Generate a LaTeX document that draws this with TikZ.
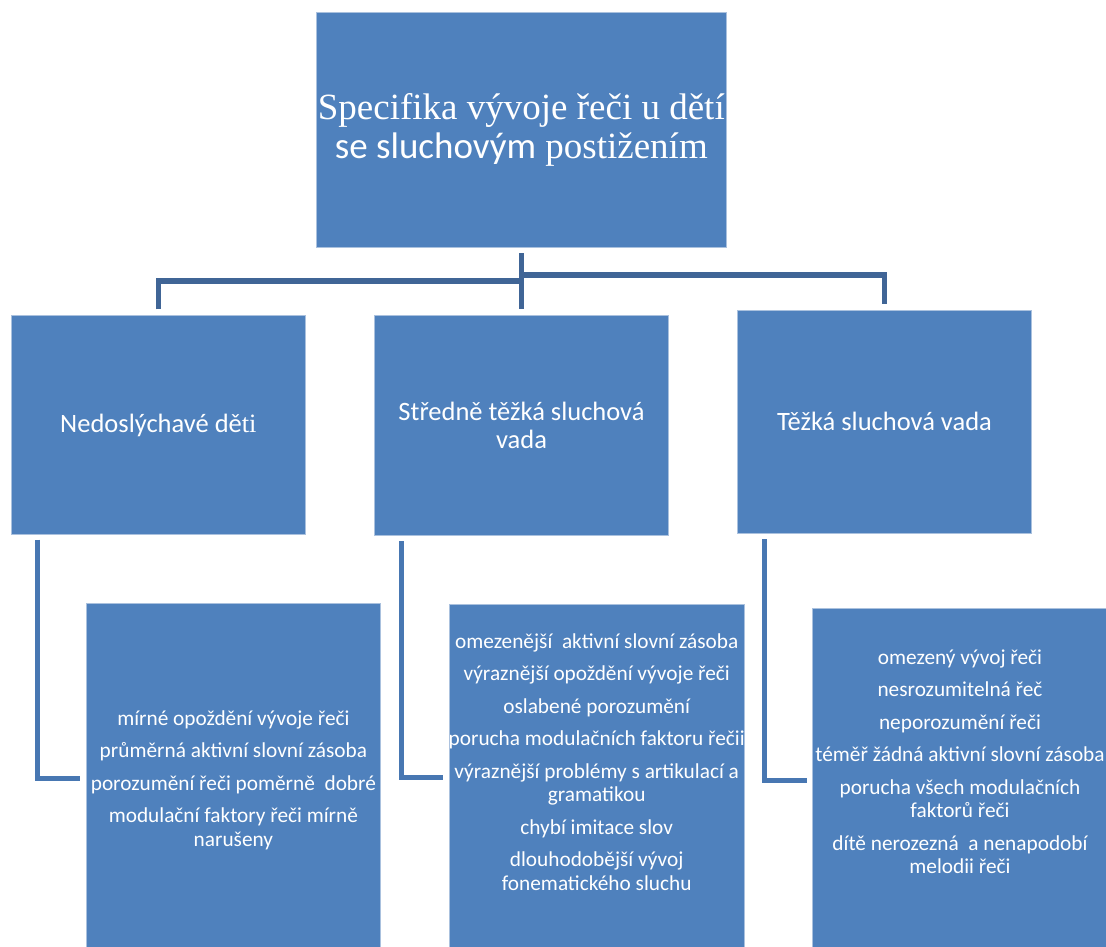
\documentclass[tikz,border=0pt]{standalone}
\usepackage{fontspec}
\setmainfont{Carlito}
\newfontfamily\serifpart{Liberation Serif}
\newfontfamily\calibripart{Carlito}
\definecolor{boxblue}{RGB}{79,129,189}
\definecolor{boxedge}{RGB}{170,193,222}
\definecolor{trunkblue}{RGB}{64,101,150}
\definecolor{twigblue}{RGB}{72,119,178}

\begin{document}
\begin{tikzpicture}[x=1pt,y=-1pt,
  box/.style={rectangle,fill=boxblue,draw=boxedge,line width=0.7pt,
    text=white,inner sep=0pt,align=flush center},
  rootbox/.style={box,minimum width=410.7pt,minimum height=234.6pt,
    font=\serifpart\fontsize{37}{38.7}\selectfont},
  groupbox/.style={box,minimum width=294.6pt,
    font=\fontsize{26.5}{28}\selectfont},
  leafbox/.style={box,anchor=north,inner xsep=-20pt,text width=334.7pt,
    font=\fontsize{21.3}{23.5}\selectfont},
  trunk/.style={draw=trunkblue,line width=5.5pt},
  twig/.style={draw=twigblue,line width=5pt}]
  \useasboundingbox
    (0,0)
    rectangle
    (1106,946);
  \node[rootbox] (root) at (521.3,130)
    {Specifika vývoje řeči u dětí\\{\calibripart se sluchovým} postižením};
  \node[groupbox,minimum height=218.6pt] (a) at (158.4,425)
    {Nedoslýchavé dě{\serifpart ti}};
  \node[groupbox,minimum height=220pt] (b) at (521.5,425.7)
    {Středně těžká sluchová\\vada};
  \node[groupbox,minimum height=223.3pt] (c) at (884.5,421.7)
    {Těžká sluchová vada};
  \node[leafbox,text height=122.3pt,text depth=228pt] (d) at (233.4,602.7)
    {mírné opoždění vývoje řeči\\[9pt]
     průměrná aktivní slovní zásoba\\[9pt]
     porozumění řeči poměrně~ dobré\\[9pt]
     modulační faktory řeči mírně\\
     narušeny};
  \node[leafbox,text height=44pt,text depth=302pt] (e) at (596.7,604)
    {omezenější~ aktivní slovní zásoba\\[9pt]
     výraznější opoždění vývoje řeči\\[9pt]
     oslabené porozumění\\[9pt]
     porucha modulačních faktoru řečii\\[9pt]
     výraznější problémy s artikulací a\\
     gramatikou\\[9pt]
     chybí imitace slov\\[9pt]
     dlouhodobější vývoj\\
     fonematického sluchu};
  \node[leafbox,text height=56.3pt,text depth=288pt] (f) at (960,607.7)
    {omezený vývoj řeči\\[9pt]
     nesrozumitelná řeč\\[9pt]
     neporozumění řeči\\[9pt]
     téměř žádná aktivní slovní zásoba\\[9pt]
     porucha všech modulačních\\
     faktorů řeči\\[9pt]
     dítě nerozezná~ a nenapodobí\\
     melodii řeči};
  \draw[trunk]
    ([yshift=-5.5pt]root.south)
    --
    ([yshift=6pt]root.south |- b.north);
  \draw[trunk]
    ([yshift=6pt]a.north)
    |-
    (root.south |- 0,281);
  \draw[trunk]
    ([yshift=6pt]c.north)
    |-
    (root.south |- 0,275);
  \draw[twig]
    ([xshift=26.5pt,yshift=-5pt]a.south west)
    |-
    ([xshift=-6pt]d.west);
  \draw[twig]
    ([xshift=27.5pt,yshift=-5.3pt]b.south west)
    |-
    ([xshift=-6pt]e.west);
  \draw[twig]
    ([xshift=27.2pt,yshift=-5.7pt]c.south west)
    |-
    ([xshift=-5.3pt]f.west);
\end{tikzpicture}
\end{document}
